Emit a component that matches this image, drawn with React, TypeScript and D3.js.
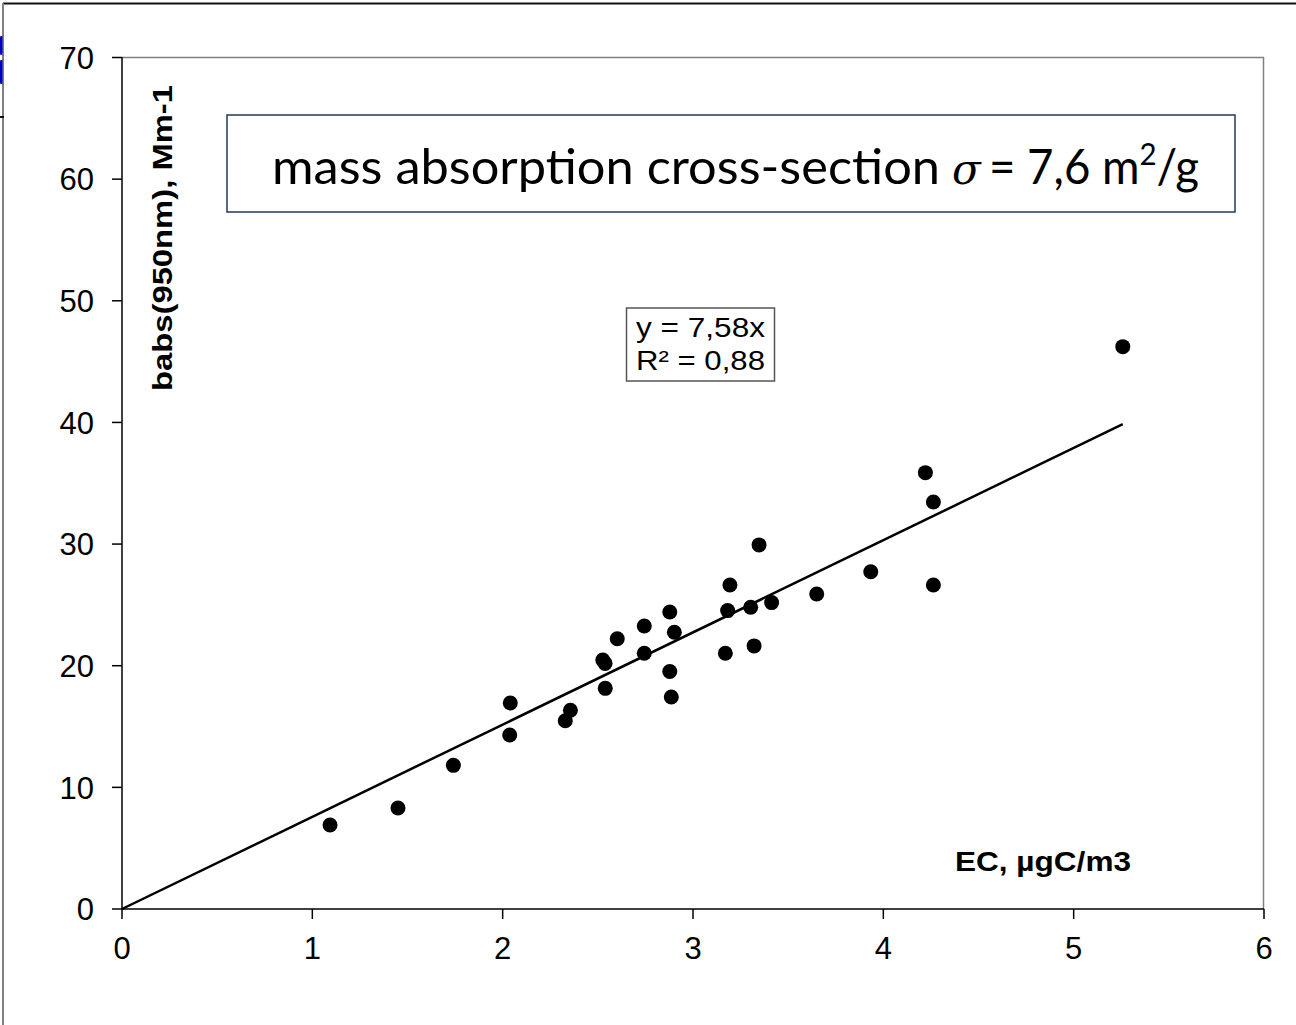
import React from "react";
import * as d3 from "d3";

const ecValues = [1.093, 1.45, 1.741, 2.04, 2.037, 2.329, 2.356, 2.526, 2.538, 2.539, 2.602, 2.744, 2.744, 2.878, 2.902, 2.878, 2.886, 3.17, 3.182, 3.194, 3.303, 3.321, 3.347, 3.413, 3.65, 3.934, 4.221, 4.263, 4.263, 5.258];
const babsValues = [6.91, 8.3, 11.81, 16.93, 14.3, 15.47, 16.34, 20.47, 20.19, 18.14, 22.22, 23.27, 21.02, 24.42, 22.75, 19.53, 17.43, 21.02, 24.53, 26.64, 24.81, 21.63, 29.93, 25.19, 25.9, 27.73, 35.87, 33.46, 26.64, 46.23];
const xTicks = [0, 1, 2, 3, 4, 5, 6];
const yTicks = [0, 10, 20, 30, 40, 50, 60, 70];
const slope = 7.58;
const eqLines = ["y = 7,58x", "R² = 0,88"];
const xLabel = "EC, µgC/m3";
const yLabel = "babs(950nm), Mm-1";
const titlePrefix = "mass absorption cross-section";
const titleSymbol = "σ";
const titleValue = "= 7,6 m";
const titleSup = "2";
const titleUnit = "/g";

const W = 1296;
const H = 1025;
const AX = "'Liberation Sans', Arial, sans-serif";
const TF = "Lato, 'Open Sans', sans-serif";

export default function App() {
  const x = d3.scaleLinear().domain([0, 6]).range([122, 1264]);
  const y = d3.scaleLinear().domain([0, 70]).range([909, 57.5]);
  const pts = ecValues.map((e, i) => ({ e, b: babsValues[i] }));
  const xMax = d3.max(ecValues) as number;
  const line = d3.line<number>().x((d) => x(d)).y((d) => y(slope * d));

  return (
    <svg width={W} height={H} style={{ position: "absolute", left: 0, top: 0, background: "#fff" }}>
      <rect x={0} y={0} width={W} height={H} fill="#fff" />
      {/* outer frame fragments */}
      <line x1={3} x2={W} y1={3.5} y2={3.5} stroke="#111" strokeWidth={2} />
      <line x1={3} x2={3} y1={3} y2={H} stroke="#808080" strokeWidth={2} />
      <line x1={0} x2={4} y1={117} y2={117} stroke="#111" strokeWidth={2} />
      <rect x={0} y={36} width={2.5} height={19} rx={1.2} fill="#0000c0" />
      <rect x={0} y={60} width={2.5} height={24} rx={1.2} fill="#0000c0" />

      {/* plot area border */}
      <line x1={122} x2={1264} y1={57.5} y2={57.5} stroke="#808080" strokeWidth={1.5} />
      <line x1={1263.5} x2={1263.5} y1={57} y2={909} stroke="#808080" strokeWidth={1.5} />

      {/* axes */}
      <line x1={122} x2={122} y1={57} y2={909} stroke="#000" strokeWidth={1.5} />
      <line x1={122} x2={1264} y1={909} y2={909} stroke="#000" strokeWidth={1.5} />
      {yTicks.map((t) => (
        <g key={"y" + t}>
          <line x1={112} x2={122} y1={y(t)} y2={y(t)} stroke="#000" strokeWidth={1.5} />
          <text x={94} y={y(t)} dy="0.36em" textAnchor="end" fontFamily={AX} fontSize={31} fill="#000">
            {t}
          </text>
        </g>
      ))}
      {xTicks.map((t) => (
        <g key={"x" + t}>
          <line x1={x(t)} x2={x(t)} y1={909} y2={919} stroke="#000" strokeWidth={1.5} />
          <text x={x(t)} y={959} textAnchor="middle" fontFamily={AX} fontSize={31} fill="#000">
            {t}
          </text>
        </g>
      ))}

      {/* trend line */}
      <path d={line([0, xMax]) || ""} fill="none" stroke="#000" strokeWidth={2.5} />

      {/* points */}
      {pts.map((p, i) => (
        <circle key={i} cx={x(p.e)} cy={y(p.b)} r={7.5} fill="#000" />
      ))}

      {/* axis titles */}
      <text
        transform={`translate(172,${238}) rotate(-90)`}
        textAnchor="middle"
        fontFamily={AX}
        fontWeight="bold"
        fontSize={28}
        textLength={306}
        lengthAdjust="spacingAndGlyphs"
        fill="#000"
      >
        {yLabel}
      </text>
      <text x={955} y={871} fontFamily={AX} fontWeight="bold" fontSize={28} textLength={176} lengthAdjust="spacingAndGlyphs" fill="#000">
        {xLabel}
      </text>

      {/* equation box */}
      <rect x={626.5} y={308} width={148} height={73} fill="#fff" stroke="#555" strokeWidth={1.5} />
      {eqLines.map((s, i) => (
        <text key={s} x={636} y={337 + i * 33} fontFamily={AX} fontSize={27} fill="#000" textLength={129} lengthAdjust="spacingAndGlyphs">
          {s}
        </text>
      ))}

      {/* title box */}
      <rect x={227} y={115} width={1008} height={97} fill="#fff" stroke="#1f3864" strokeWidth={1.5} />
      <text x={272} y={184} fontFamily={TF} fontSize={48} fill="#000" textLength={668} lengthAdjust="spacingAndGlyphs">
        {titlePrefix}
      </text>
      <text x={952} y={184} fontFamily="'DejaVu Serif', 'Liberation Serif', serif" fontStyle="italic" fontSize={42} fill="#000">
        {titleSymbol}
      </text>
      <text x={989} y={184} fontFamily={TF} fontSize={48} fill="#000" textLength={210} lengthAdjust="spacingAndGlyphs">
        <tspan>{titleValue}</tspan>
        <tspan fontSize={31} dy={-19}>{titleSup}</tspan>
        <tspan dy={19}>{titleUnit}</tspan>
      </text>
    </svg>
  );
}
